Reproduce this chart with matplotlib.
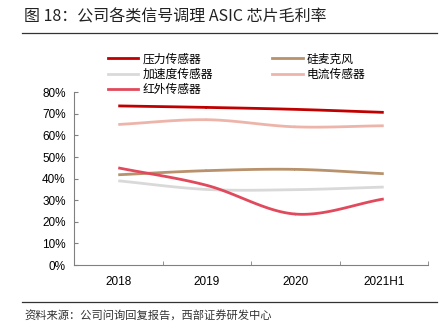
import numpy as np
import matplotlib
matplotlib.use("Agg")
import matplotlib.pyplot as plt
from matplotlib.lines import Line2D

plt.rcParams["font.family"] = ["Liberation Sans", "Noto Sans CJK SC", "DejaVu Sans"]

# gross margin of each signal-conditioning ASIC line (%)
periods = ["2018", "2019", "2020", "2021H1"]
pressure = [73.7, 73.0, 72.1, 70.7]
mic = [41.8, 43.7, 44.3, 42.3]
accel = [39.0, 35.0, 34.9, 36.1]
current = [65.1, 67.3, 64.0, 64.5]
infrared = [45.0, 36.9, 23.6, 30.6]

series = [
    ("压力传感器", pressure, "#C00000"),
    ("硅麦克风", mic, "#B8926C"),
    ("加速度传感器", accel, "#D9D9D9"),
    ("电流传感器", current, "#EDB5AA"),
    ("红外传感器", infrared, "#E04A5C"),
]


def smooth(x, y, n=30):
    """Catmull-Rom curve through the points, like a spreadsheet 'smoothed line'."""
    x = np.asarray(x, float)
    y = np.asarray(y, float)
    px = np.concatenate([[2 * x[0] - x[1]], x, [2 * x[-1] - x[-2]]])
    py = np.concatenate([[2 * y[0] - y[1]], y, [2 * y[-1] - y[-2]]])
    xs, ys = [], []
    t = np.linspace(0, 1, n)
    for i in range(1, len(px) - 2):
        for p, out in ((px, xs), (py, ys)):
            p0, p1, p2, p3 = p[i - 1], p[i], p[i + 1], p[i + 2]
            out.append(0.5 * ((2 * p1) + (-p0 + p2) * t
                              + (2 * p0 - 5 * p1 + 4 * p2 - p3) * t ** 2
                              + (-p0 + 3 * p1 - 3 * p2 + p3) * t ** 3))
    return np.concatenate(xs), np.concatenate(ys)


fig = plt.figure(figsize=(4.47, 3.31), dpi=100)
ax = fig.add_axes([74 / 447, 1 - 265 / 331, (428 - 74) / 447, (265 - 92.3) / 331])

x = np.arange(len(periods))
handles = []
for name, vals, color in series:
    sx, sy = smooth(x, vals)
    ax.plot(sx, sy, color=color, lw=2.0, solid_capstyle="butt")
    handles.append(Line2D([], [], color=color, lw=2.0, label=name))

ax.set_xlim(-0.5, len(periods) - 0.5)
ax.set_ylim(0, 80)
ax.set_yticks(np.arange(0, 81, 10))
ax.set_yticklabels([f"{v}%" for v in range(0, 81, 10)], fontsize=8.5)
ax.set_xticks(x)
ax.set_xticklabels(periods, fontsize=8.5)
ax.set_xticks(np.arange(-0.5, len(periods)), minor=True)
ax.tick_params(axis="x", which="major", length=0, pad=8)
ax.tick_params(axis="x", which="minor", direction="in", length=3, color="#808080")
ax.tick_params(axis="y", direction="in", length=3, color="#808080", pad=6)
for side in ("top", "right"):
    ax.spines[side].set_visible(False)
for side in ("left", "bottom"):
    ax.spines[side].set_color("#808080")
    ax.spines[side].set_linewidth(0.8)

# legend: two columns above the plot
order = [handles[0], handles[2], handles[4], handles[1], handles[3]]
fig.legend(handles=order, ncol=2, loc="upper left", bbox_to_anchor=(97 / 447, 1 - 42 / 331),
           frameon=False, handlelength=2.6, handletextpad=0.35,
           columnspacing=5.0, labelspacing=0.18, prop={"family": "Noto Sans CJK SC", "size": 8.5})

# title, rules and source note
fig.text(24 / 447, 1 - 17 / 331, "图 18：公司各类信号调理 ASIC 芯片毛利率", fontsize=11.5,
         family="Noto Sans CJK SC", va="center", ha="left", color="#222222")
fig.add_artist(Line2D([22 / 447, 437 / 447], [1 - 33 / 331] * 2, color="#333333", lw=0.9))
fig.add_artist(Line2D([22 / 447, 437 / 447], [1 - 302 / 331] * 2, color="#333333", lw=0.9))
fig.text(24 / 447, 1 - 316 / 331, "资料来源：公司问询回复报告，西部证券研发中心", fontsize=8.1,
         family="Noto Sans CJK SC", va="center", ha="left", color="#333333")

fig.savefig("out.png", dpi=100)
